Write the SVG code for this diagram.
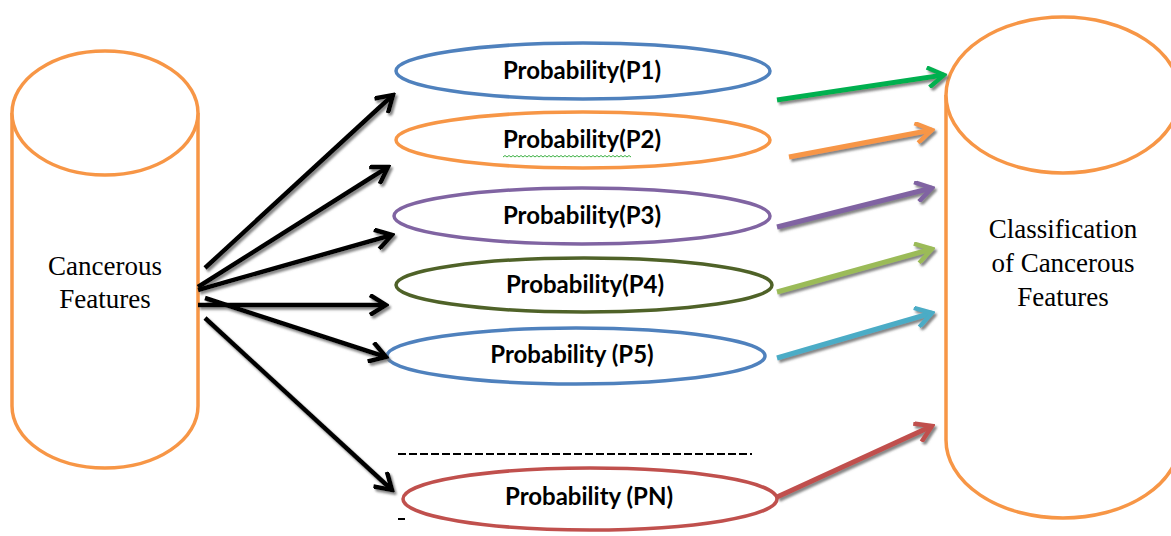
<svg xmlns="http://www.w3.org/2000/svg" width="1171" height="536" viewBox="0 0 1171 536">
<style>
.cyl{fill:#fff;stroke:#f79646;stroke-width:3.5}
.ell{fill:#fff;stroke-width:3.5}
.lbl{font-family:"Liberation Serif","Times New Roman",serif;font-size:27px;fill:#000;text-anchor:middle}
.prob{font-family:Lato,"Liberation Sans",sans-serif;font-weight:bold;font-size:24px;fill:#000;text-anchor:middle}
.blk{stroke:#000;stroke-width:4.5;fill:none}
.col{stroke-width:5;fill:none}
</style>
<defs>
<filter id="sh" x="-20%" y="-20%" width="140%" height="140%">
<feDropShadow dx="2" dy="2.5" stdDeviation="1" flood-color="#707070" flood-opacity="0.85"/>
</filter>
<marker id="mk" markerUnits="userSpaceOnUse" viewBox="0 0 22 22" markerWidth="22" markerHeight="22" refX="19" refY="11" orient="auto"><path d="M3,1 L19,11 L3,21" fill="none" stroke="#000" stroke-width="4.5"/></marker>
<marker id="mgreen" markerUnits="userSpaceOnUse" viewBox="0 0 22 22" markerWidth="22" markerHeight="22" refX="19" refY="11" orient="auto"><path d="M3,1 L19,11 L3,21" fill="none" stroke="#00b050" stroke-width="4.5"/></marker>
<marker id="morange" markerUnits="userSpaceOnUse" viewBox="0 0 22 22" markerWidth="22" markerHeight="22" refX="19" refY="11" orient="auto"><path d="M3,1 L19,11 L3,21" fill="none" stroke="#f79646" stroke-width="4.5"/></marker>
<marker id="mpurple" markerUnits="userSpaceOnUse" viewBox="0 0 22 22" markerWidth="22" markerHeight="22" refX="19" refY="11" orient="auto"><path d="M3,1 L19,11 L3,21" fill="none" stroke="#8064a2" stroke-width="4.5"/></marker>
<marker id="mlgreen" markerUnits="userSpaceOnUse" viewBox="0 0 22 22" markerWidth="22" markerHeight="22" refX="19" refY="11" orient="auto"><path d="M3,1 L19,11 L3,21" fill="none" stroke="#9bbb59" stroke-width="4.5"/></marker>
<marker id="mteal" markerUnits="userSpaceOnUse" viewBox="0 0 22 22" markerWidth="22" markerHeight="22" refX="19" refY="11" orient="auto"><path d="M3,1 L19,11 L3,21" fill="none" stroke="#4bacc6" stroke-width="4.5"/></marker>
<marker id="mred" markerUnits="userSpaceOnUse" viewBox="0 0 22 22" markerWidth="22" markerHeight="22" refX="19" refY="11" orient="auto"><path d="M3,1 L19,11 L3,21" fill="none" stroke="#c0504d" stroke-width="4.5"/></marker>
</defs>
<rect width="1171" height="536" fill="#fff"/>

<g id="cancerous-features">
<path class="cyl" d="M12,113 L12,406 A93,62 0 0 0 198,406 L198,113"/>
<ellipse class="cyl" cx="105" cy="113" rx="93" ry="62"/>
<text class="lbl" x="105" y="275">Cancerous</text>
<text class="lbl" x="105" y="308">Features</text>
</g>

<g id="classification">
<path class="cyl" d="M946,95 L946,440 A117,78 0 0 0 1180,440 L1180,95"/>
<ellipse class="cyl" cx="1063" cy="95" rx="117" ry="78"/>
<text class="lbl" x="1063" y="238">Classification</text>
<text class="lbl" x="1063" y="272">of Cancerous</text>
<text class="lbl" x="1063" y="306">Features</text>
</g>

<g id="p1">
<ellipse class="ell" stroke="#4f81bd" cx="583" cy="71" rx="187" ry="28"/>
<text class="prob" x="582" y="79">Probability(P1)</text>
</g>
<g id="p2">
<ellipse class="ell" stroke="#f79646" cx="583" cy="140" rx="187" ry="28"/>
<text class="prob" x="582" y="148">Probability(P2)</text>
<path d="M503,157 l2,-1.5 l2,1.5 l2,-1.5 l2,1.5 l2,-1.5 l2,1.5 l2,-1.5 l2,1.5 l2,-1.5 l2,1.5 l2,-1.5 l2,1.5 l2,-1.5 l2,1.5 l2,-1.5 l2,1.5 l2,-1.5 l2,1.5 l2,-1.5 l2,1.5 l2,-1.5 l2,1.5 l2,-1.5 l2,1.5 l2,-1.5 l2,1.5 l2,-1.5 l2,1.5 l2,-1.5 l2,1.5 l2,-1.5 l2,1.5 l2,-1.5 l2,1.5 l2,-1.5 l2,1.5 l2,-1.5 l2,1.5 l2,-1.5 l2,1.5 l2,-1.5 l2,1.5 l2,-1.5 l2,1.5 l2,-1.5 l2,1.5 l2,-1.5 l2,1.5 l2,-1.5 l2,1.5 l2,-1.5 l2,1.5 l2,-1.5 l2,1.5 l2,-1.5 l2,1.5 l2,-1.5 l2,1.5 l2,-1.5 l2,1.5 l2,-1.5 l2,1.5 l2,-1.5 l2,1.5" fill="none" stroke="#3cb043" stroke-width="1"/>
</g>
<g id="p3">
<ellipse class="ell" stroke="#8064a2" cx="582" cy="216" rx="188" ry="28"/>
<text class="prob" x="582" y="224">Probability(P3)</text>
</g>
<g id="p4">
<ellipse class="ell" stroke="#4f6228" cx="584" cy="285" rx="188" ry="27"/>
<text class="prob" x="585" y="293">Probability(P4)</text>
</g>
<g id="p5">
<ellipse class="ell" stroke="#4f81bd" cx="576" cy="356" rx="189" ry="28"/>
<text class="prob" x="572" y="363">Probability (P5)</text>
</g>
<g id="dashes">
<line x1="398" y1="454" x2="752" y2="454" stroke="#000" stroke-width="2" stroke-dasharray="8 3"/>
<line x1="398" y1="519" x2="405" y2="519" stroke="#000" stroke-width="2"/>
</g>
<g id="pn">
<ellipse class="ell" stroke="#c0504d" cx="590" cy="499" rx="187" ry="31"/>
<text class="prob" x="589" y="505">Probability (PN)</text>
</g>

<g id="connectors">
<g filter="url(#sh)">
<line class="blk" x1="205" y1="268" x2="393" y2="95" marker-end="url(#mk)"/>
<line class="blk" x1="198" y1="287" x2="388" y2="167" marker-end="url(#mk)"/>
<line class="blk" x1="198" y1="290" x2="392" y2="235" marker-end="url(#mk)"/>
<line class="blk" x1="198" y1="305" x2="386" y2="305" marker-end="url(#mk)"/>
<line class="blk" x1="205" y1="298" x2="386" y2="357" marker-end="url(#mk)"/>
<line class="blk" x1="205" y1="318" x2="392" y2="490" marker-end="url(#mk)"/>
<line class="col" stroke="#00b050" x1="777" y1="100" x2="944" y2="75" marker-end="url(#mgreen)"/>
<line class="col" stroke="#f79646" x1="789" y1="157" x2="932" y2="130" marker-end="url(#morange)"/>
<line class="col" stroke="#8064a2" x1="777" y1="227" x2="932" y2="188" marker-end="url(#mpurple)"/>
<line class="col" stroke="#9bbb59" x1="777" y1="292" x2="932" y2="249" marker-end="url(#mlgreen)"/>
<line class="col" stroke="#4bacc6" x1="777" y1="358" x2="932" y2="313" marker-end="url(#mteal)"/>
<line class="col" stroke="#c0504d" x1="777" y1="497" x2="932" y2="426" marker-end="url(#mred)"/>
</g>
</g>
</svg>
